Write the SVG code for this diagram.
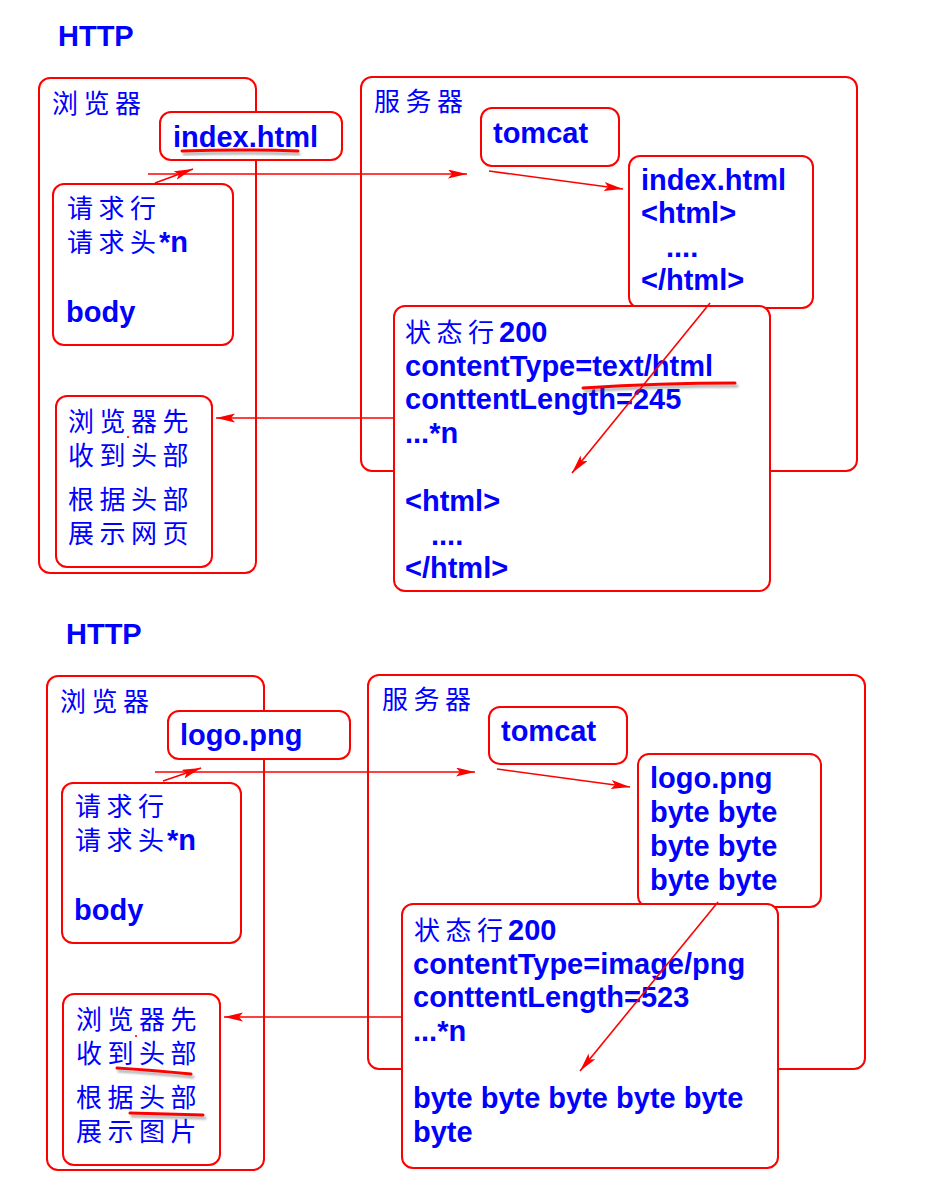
<svg xmlns="http://www.w3.org/2000/svg" width="936" height="1199" viewBox="0 0 936 1199">
<style>
.box{fill:#fff;stroke:#ff0000;stroke-width:2}
.lat{font-family:"Liberation Sans",Arial,sans-serif;font-weight:bold;font-size:29px;fill:#0000ff}
.cjk{font-family:"Noto Sans CJK SC","Noto Sans",sans-serif;font-size:26px;letter-spacing:5.5px;fill:#0000ff}
.nls{letter-spacing:0}
.con{stroke:#ff0000;stroke-width:1.6;fill:none;marker-end:url(#ah)}
.ul{stroke:#ff0000;stroke-width:3;fill:none;stroke-linecap:round}
.uls{stroke:#555;stroke-opacity:.45;stroke-width:3;fill:none;stroke-linecap:round;filter:url(#blur)}
</style>
<defs>
<marker id="ah" markerUnits="userSpaceOnUse" markerWidth="20" markerHeight="10" refX="19" refY="4.5" orient="auto">
<path d="M0,0 L19,4.5 L0,9 L4,4.5 Z" fill="#ff0000"/>
</marker>
<filter id="blur" x="-10%" y="-200%" width="120%" height="500%"><feGaussianBlur stdDeviation="1.2"/></filter>
</defs>
<rect width="936" height="1199" fill="#fff"/>

<!-- ===== TOP ===== -->
<text class="lat" x="58" y="46">HTTP</text>

<g id="browser1">
<rect class="box" x="39" y="78" width="217" height="495" rx="11"/>
<text class="cjk" x="52" y="113">浏览器</text>
</g>
<g id="server1">
<rect class="box" x="361" y="77" width="496" height="394" rx="11"/>
<text class="cjk" x="374" y="111">服务器</text>
</g>
<g id="req1-file">
<rect class="box" x="160" y="112" width="182" height="48" rx="11"/>
<text class="lat" x="173" y="147">index.html</text>
<path class="uls" d="M184,154 Q240,152 299,154"/>
<path class="ul" d="M182,151 Q240,149 298,151"/>
</g>
<g id="request1">
<rect class="box" x="53" y="184" width="180" height="161" rx="11"/>
<text class="cjk" x="67" y="218">请求行</text>
<text x="67" y="252"><tspan class="cjk">请求</tspan><tspan class="cjk nls">头</tspan><tspan class="lat" x="159">*n</tspan></text>
<text class="lat" x="66" y="322">body</text>
</g>
<g id="tomcat1">
<rect class="box" x="481" y="108" width="138" height="58" rx="11"/>
<text class="lat" x="493" y="143">tomcat</text>
</g>
<g id="file1">
<rect class="box" x="629" y="156" width="184" height="152" rx="11"/>
<text class="lat" x="641" y="190">index.html</text>
<text class="lat" x="641" y="223">&lt;html&gt;</text>
<text class="lat" x="666" y="257">....</text>
<text class="lat" x="641" y="290">&lt;/html&gt;</text>
</g>
<g id="response1">
<rect class="box" x="394" y="306" width="376" height="285" rx="11"/>
<text x="405" y="342"><tspan class="cjk">状态</tspan><tspan class="cjk nls">行</tspan><tspan class="lat" x="499">200</tspan></text>
<text class="lat" x="405" y="376">contentType=text/html</text>
<text class="lat" x="405" y="409">conttentLength=245</text>
<text class="lat" x="405" y="443">...*n</text>
<text class="lat" x="405" y="511">&lt;html&gt;</text>
<text class="lat" x="431" y="545">....</text>
<text class="lat" x="405" y="578">&lt;/html&gt;</text>
<path class="uls" d="M585,391 Q660,386 737,386"/>
<path class="ul" d="M583,388 Q660,383 735,383"/>
</g>
<g id="result1">
<rect class="box" x="56" y="396" width="156" height="171" rx="11"/>
<text class="cjk" x="68" y="431">浏览器先</text>
<text class="cjk" x="68" y="465">收到头部</text>
<text class="cjk" x="68" y="509">根据头部</text>
<text class="cjk" x="68" y="543">展示网页</text>
<circle cx="128" cy="437" r="1.1" fill="#ff0000"/>
</g>

<!-- ===== BOTTOM ===== -->
<text class="lat" x="66" y="644">HTTP</text>

<g id="browser2">
<rect class="box" x="47" y="676" width="217" height="494" rx="11"/>
<text class="cjk" x="60" y="711">浏览器</text>
</g>
<g id="server2">
<rect class="box" x="368" y="675" width="497" height="394" rx="11"/>
<text class="cjk" x="382" y="709">服务器</text>
</g>
<g id="req2-file">
<rect class="box" x="168" y="711" width="182" height="48" rx="11"/>
<text class="lat" x="180" y="745">logo.png</text>
</g>
<g id="request2">
<rect class="box" x="62" y="783" width="179" height="160" rx="11"/>
<text class="cjk" x="75" y="816">请求行</text>
<text x="75" y="850"><tspan class="cjk">请求</tspan><tspan class="cjk nls">头</tspan><tspan class="lat" x="167">*n</tspan></text>
<text class="lat" x="74" y="920">body</text>
</g>
<g id="tomcat2">
<rect class="box" x="489" y="707" width="138" height="57" rx="11"/>
<text class="lat" x="501" y="741">tomcat</text>
</g>
<g id="file2">
<rect class="box" x="638" y="754" width="183" height="153" rx="11"/>
<text class="lat" x="650" y="788">logo.png</text>
<text class="lat" x="650" y="822">byte byte</text>
<text class="lat" x="650" y="856">byte byte</text>
<text class="lat" x="650" y="890">byte byte</text>
</g>
<g id="response2">
<rect class="box" x="402" y="904" width="376" height="264" rx="11"/>
<text x="414" y="940"><tspan class="cjk">状态</tspan><tspan class="cjk nls">行</tspan><tspan class="lat" x="508">200</tspan></text>
<text class="lat" x="413" y="974">contentType=image/png</text>
<text class="lat" x="413" y="1007">conttentLength=523</text>
<text class="lat" x="413" y="1041">...*n</text>
<text class="lat" x="413" y="1108">byte byte byte byte byte</text>
<text class="lat" x="413" y="1142">byte</text>
</g>
<g id="result2">
<rect class="box" x="63" y="994" width="157" height="171" rx="11"/>
<text class="cjk" x="76" y="1029">浏览器先</text>
<text class="cjk" x="76" y="1063">收到头部</text>
<text class="cjk" x="76" y="1107">根据头部</text>
<text class="cjk" x="76" y="1141">展示图片</text>
<circle cx="136" cy="1036" r="1.1" fill="#ff0000"/>
<path class="uls" d="M119,1071 Q150,1073 193,1077"/>
<path class="ul" d="M117,1068 Q150,1070 191,1074"/>
<path class="uls" d="M132,1116 Q170,1117 205,1118"/>
<path class="ul" d="M130,1113 Q170,1114 203,1115"/>
</g>

<g id="connectors">
<line class="con" x1="155" y1="183" x2="193" y2="169"/>
<line class="con" x1="148" y1="174" x2="467" y2="174"/>
<line class="con" x1="489" y1="171" x2="623" y2="189"/>
<line class="con" x1="710" y1="303" x2="572" y2="473"/>
<line class="con" x1="394" y1="418" x2="216" y2="418"/>
<line class="con" x1="163" y1="781" x2="201" y2="768"/>
<line class="con" x1="155" y1="772" x2="475" y2="772"/>
<line class="con" x1="497" y1="769" x2="630" y2="787"/>
<line class="con" x1="718" y1="902" x2="580" y2="1071"/>
<line class="con" x1="402" y1="1017" x2="224" y2="1017"/>
</g>
</svg>
